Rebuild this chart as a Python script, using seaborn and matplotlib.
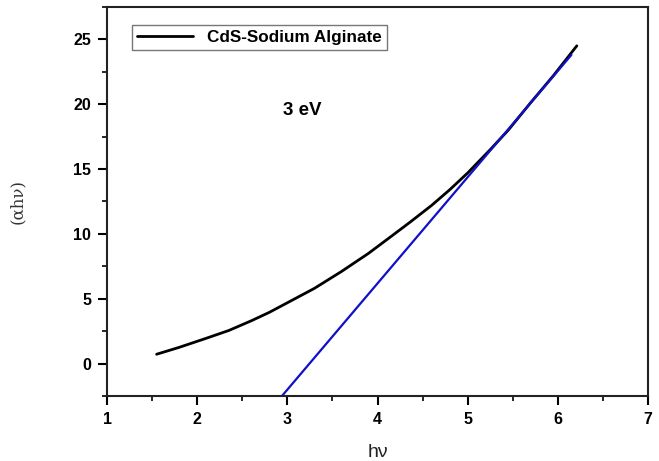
import matplotlib
matplotlib.use("Agg")
import matplotlib.pyplot as plt
import seaborn as sns
import pandas as pd
from matplotlib.ticker import MultipleLocator

sns.set_theme(style="white")
plt.rcParams['font.family'] = ['Liberation Sans', 'DejaVu Sans']
plt.rcParams['text.color'] = 'black'
plt.rcParams['axes.labelcolor'] = 'black'
plt.rcParams['xtick.color'] = 'black'
plt.rcParams['ytick.color'] = 'black'

# Data
hv = [1.55, 1.8, 2.1, 2.35, 2.6, 2.8, 3.03, 3.3, 3.6, 3.9, 4.15, 4.36,
      4.6, 4.8, 5.0, 5.25, 5.45, 5.69, 5.95, 6.21]
ahv = [0.72, 1.25, 1.95, 2.55, 3.3, 3.95, 4.8, 5.8, 7.1, 8.5, 9.8, 10.9,
       12.2, 13.4, 14.7, 16.5, 18.0, 20.05, 22.2, 24.5]
fit_x = [2.94, 6.15]
fit_y = [-2.5, 23.8]
series_label = "CdS-Sodium Alginate"
annotation = "3 eV"

df = pd.DataFrame({"hv": hv, "ahv": ahv})
fit = pd.DataFrame({"hv": fit_x, "ahv": fit_y})

fig = plt.figure(figsize=(6.59, 4.61), dpi=100)
ax = fig.add_axes([0.1624, 0.141, 0.821, 0.844])

sns.lineplot(data=df, x="hv", y="ahv", ax=ax, color="black", lw=2.0,
             label=series_label, sort=False)
sns.lineplot(data=fit, x="hv", y="ahv", ax=ax, color="#1010c8", lw=1.6,
             legend=False, sort=False)

ax.set_xlim(1, 7)
ax.set_ylim(-2.5, 27.5)
ax.xaxis.set_major_locator(MultipleLocator(1))
ax.xaxis.set_minor_locator(MultipleLocator(0.5))
ax.yaxis.set_major_locator(MultipleLocator(5))
ax.yaxis.set_minor_locator(MultipleLocator(2.5))
ax.tick_params(which="major", direction="out", length=6.5, width=1.5,
               bottom=True, left=True, top=False, right=False, labelsize=11.5,
               pad=5, colors="black")
ax.tick_params(which="minor", direction="out", length=3.5, width=1.2,
               bottom=True, left=True, top=False, right=False, colors="black")
for lab in ax.get_xticklabels() + ax.get_yticklabels():
    lab.set_fontweight("bold")
for s in ax.spines.values():
    s.set_visible(True)
    s.set_color("#222222")
    s.set_linewidth(1.5)

ax.set_xlabel("hν", fontsize=14, labelpad=12, color="#222222")
ax.set_ylabel("(αhν)", fontsize=12, labelpad=34, family=['DejaVu Serif'],
              color="#333333")

ax.text(3.17, 19.5, annotation, fontsize=13.5, fontweight="bold",
        ha="center", va="center", color="black")

leg = ax.legend(loc="upper left", bbox_to_anchor=(0.03, 0.975), fancybox=False,
                frameon=True, handlelength=3.3, borderpad=0.3,
                prop={"weight": "bold", "size": 12.3})
leg.get_frame().set_edgecolor("#555555")
leg.get_frame().set_linewidth(1.0)
for t in leg.get_texts():
    t.set_color("black")

fig.savefig("out.png", dpi=100)
